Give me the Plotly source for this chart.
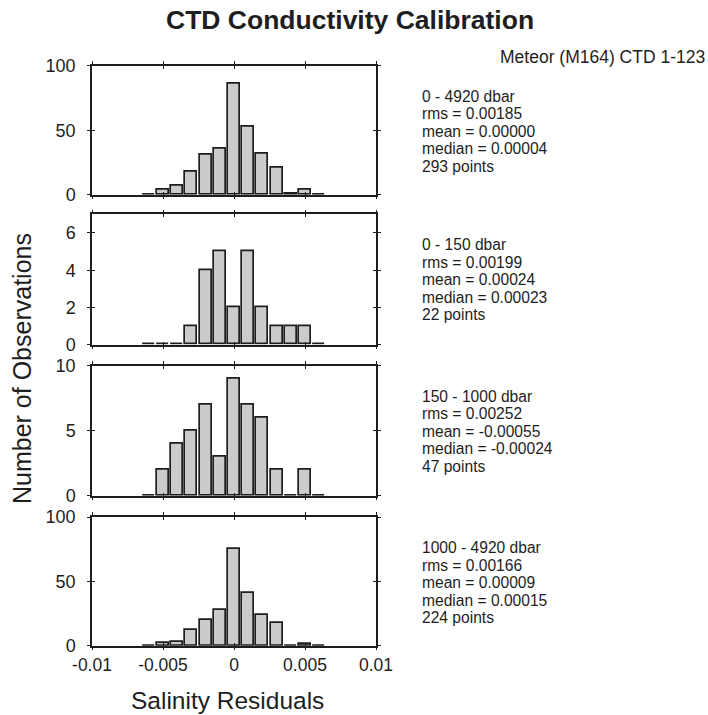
import plotly.graph_objects as go

# ---------------- data ----------------
bin_centers = [-0.006, -0.005, -0.004, -0.003, -0.002, -0.001, 0.0,
               0.001, 0.002, 0.003, 0.004, 0.005, 0.006]
counts_0_4920 = [0, 4, 7, 18, 31, 36, 86, 53, 32, 21, 1, 4, 0]
counts_0_150 = [0, 0, 0, 1, 4, 5, 2, 5, 2, 1, 1, 1, 0]
counts_150_1000 = [0, 2, 4, 5, 7, 3, 9, 7, 6, 2, 0, 2, 0]
counts_1000_4920 = [0, 2, 3, 12, 20, 28, 75, 41, 24, 18, 0, 1, 0]

panel_counts = [counts_0_4920, counts_0_150, counts_150_1000, counts_1000_4920]
panel_yrange = [[0, 100], [0, 7], [0, 10], [0, 100]]
panel_yticks = [[0, 50, 100], [0, 2, 4, 6], [0, 5, 10], [0, 50, 100]]
x_ticks = [-0.01, -0.005, 0, 0.005, 0.01]
x_ticklabels = ["-0.01", "-0.005", "0", "0.005", "0.01"]

panel_stats = [
    ["0 - 4920 dbar", "rms = 0.00185", "mean = 0.00000", "median = 0.00004", "293 points"],
    ["0 - 150 dbar", "rms = 0.00199", "mean = 0.00024", "median = 0.00023", "22 points"],
    ["150 - 1000 dbar", "rms = 0.00252", "mean = -0.00055", "median = -0.00024", "47 points"],
    ["1000 - 4920 dbar", "rms = 0.00166", "mean = 0.00009", "median = 0.00015", "224 points"],
]

title_text = "CTD Conductivity Calibration"
subtitle_text = "Meteor (M164) CTD 1-123"
xlabel = "Salinity Residuals"
ylabel = "Number of Observations"

# ---------------- layout geometry ----------------
W, H = 708, 715
FONT = "Liberation Sans, Arial, Helvetica, sans-serif"
INK = "#1e1e1e"
x_dom = [92 / W, 376 / W]
panel_px = [(65.7, 194.7), (214.3, 344.7), (365.7, 495.7), (517.0, 645.7)]
y_doms = [[1 - b / H, 1 - t / H] for (t, b) in panel_px]

fig = go.Figure()
layout = {}

for i, counts in enumerate(panel_counts):
    n = i + 1
    ov = i + 5
    xs = "" if n == 1 else str(n)
    fig.add_trace(go.Bar(
        x=bin_centers, y=counts, width=0.00085,
        marker=dict(color="#cbcbcb", line=dict(color=INK, width=1.7)),
        xaxis="x" + xs, yaxis="y" + xs, showlegend=False, hoverinfo="x+y",
    ))
    # invisible trace for overlay axes (inner tick marks)
    fig.add_trace(go.Scatter(x=[None], y=[None], xaxis="x" + str(ov), yaxis="y" + str(ov),
                             showlegend=False, hoverinfo="skip"))
    bottom = (n == 4)
    layout["xaxis" + xs] = dict(
        domain=x_dom, range=[-0.01, 0.01], anchor="y" + xs, automargin=False,
        tickvals=x_ticks, ticktext=x_ticklabels, showticklabels=bottom,
        ticks="outside", ticklen=3, tickwidth=1.3, tickcolor=INK,
        showline=True, linecolor=INK, linewidth=1.5, mirror="ticks",
        showgrid=False, zeroline=False,
        tickfont=dict(family=FONT, size=17.5, color=INK),
        fixedrange=True,
    )
    layout["yaxis" + xs] = dict(
        domain=y_doms[i], range=panel_yrange[i], anchor="x" + xs, automargin=False,
        tickvals=panel_yticks[i],
        ticks="outside", ticklen=3, tickwidth=1.3, tickcolor=INK,
        showline=True, linecolor=INK, linewidth=1.5, mirror="ticks",
        showgrid=False, zeroline=False, ticklabelstandoff=8,
        tickfont=dict(family=FONT, size=18, color=INK),
        fixedrange=True,
    )
    layout["xaxis" + str(ov)] = dict(
        domain=x_dom, range=[-0.01, 0.01], anchor="y" + str(ov), overlaying="x" + xs,
        tickvals=x_ticks, showticklabels=False, automargin=False,
        ticks="inside", ticklen=3, tickwidth=1.3, tickcolor=INK,
        showline=False, mirror="ticks", showgrid=False, zeroline=False, fixedrange=True,
    )
    layout["yaxis" + str(ov)] = dict(
        domain=y_doms[i], range=panel_yrange[i], anchor="x" + str(ov), overlaying="y" + xs,
        tickvals=panel_yticks[i], showticklabels=False, automargin=False,
        ticks="inside", ticklen=3, tickwidth=1.3, tickcolor=INK,
        showline=False, mirror="ticks", showgrid=False, zeroline=False, fixedrange=True,
    )

annotations = []
LINE_STEP = 17.5
for i, lines in enumerate(panel_stats):
    top_px = panel_px[i][0] + 21
    for j, line in enumerate(lines):
        annotations.append(dict(
            text=line, xref="paper", yref="paper",
            x=421 / W, y=1 - (top_px + j * LINE_STEP) / H,
            xanchor="left", yanchor="top", showarrow=False, borderpad=0,
            font=dict(family=FONT, size=15.6, color=INK),
        ))

annotations.append(dict(text="<b>" + title_text + "</b>", xref="paper", yref="paper",
                        x=350 / W, y=1 - 20 / H, xanchor="center", yanchor="middle",
                        showarrow=False, font=dict(family=FONT, size=26.5, color=INK)))
annotations.append(dict(text=subtitle_text, xref="paper", yref="paper",
                        x=707 / W, y=1 - 57 / H, xanchor="right", yanchor="middle",
                        showarrow=False, font=dict(family=FONT, size=17.5, color=INK)))
annotations.append(dict(text=xlabel, xref="paper", yref="paper",
                        x=228 / W, y=0, xanchor="center", yanchor="bottom", borderpad=0,
                        showarrow=False, font=dict(family=FONT, size=24.5, color=INK)))
annotations.append(dict(text=ylabel, xref="paper", yref="paper",
                        x=22 / W, y=1 - 369 / H, xanchor="center", yanchor="middle",
                        textangle=-90, showarrow=False,
                        font=dict(family=FONT, size=25, color=INK)))

fig.update_layout(
    template="none",
    width=W, height=H, margin=dict(l=0, r=0, t=0, b=0, pad=0),
    paper_bgcolor="white", plot_bgcolor="white",
    annotations=annotations, bargap=0, **layout,
)

fig.write_html("out.html", config={"displayModeBar": False})
